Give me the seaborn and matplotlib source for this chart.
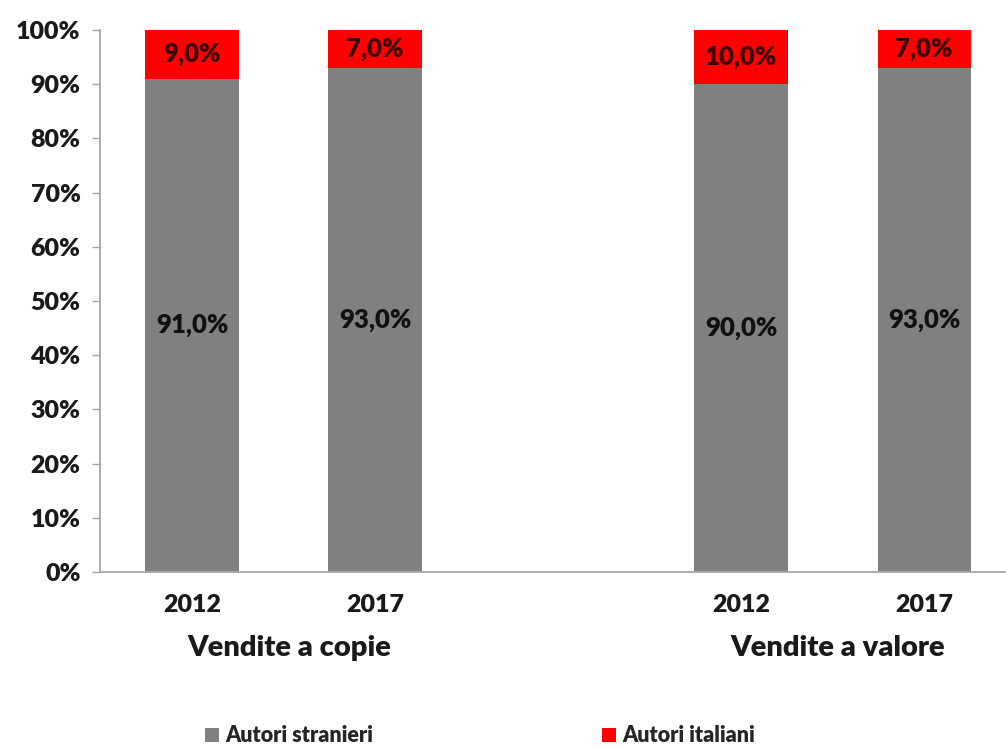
import matplotlib
matplotlib.use("Agg")
import matplotlib.pyplot as plt
import matplotlib.transforms as mtransforms
from matplotlib.patches import Patch
import seaborn as sns
import pandas as pd

# Data: share of sales by author origin
groups = ["Vendite a copie", "Vendite a copie", "Vendite a valore", "Vendite a valore"]
years = ["2012", "2017", "2012", "2017"]
positions = [0, 1, 3, 4]
stranieri = [91.0, 93.0, 90.0, 93.0]
italiani = [9.0, 7.0, 10.0, 7.0]
yticks = [0, 10, 20, 30, 40, 50, 60, 70, 80, 90, 100]

GREY = "#808080"
RED = "#FF0000"
FONT = "Lato"

sns.set_theme(style="white")
plt.rcParams["font.family"] = [FONT, "DejaVu Sans"]
plt.rcParams["font.weight"] = "bold"

df = pd.DataFrame({
    "pos": positions,
    "group": groups,
    "year": years,
    "stranieri": stranieri,
    "italiani": italiani,
})
df["totale"] = df["stranieri"] + df["italiani"]

fig = plt.figure(figsize=(10.06, 7.49), dpi=100)
ax = fig.add_axes([100 / 1006, 177 / 749, 906 / 1006, 542 / 749])

# stacked bars: full height in red, foreign share in grey on top of it
sns.barplot(data=df, x="pos", y="totale", native_scale=True, color=RED,
            saturation=1, width=0.51, ax=ax, linewidth=0, errorbar=None)
sns.barplot(data=df, x="pos", y="stranieri", native_scale=True, color=GREY,
            saturation=1, width=0.51, ax=ax, linewidth=0, errorbar=None)

# value labels centred in each segment
for p, s, i in zip(positions, stranieri, italiani):
    ax.text(p, s / 2, f"{s:.1f}%".replace(".", ","), ha="center", va="center",
            fontsize=18.5, fontweight="heavy", color="#111111")
    ax.text(p, s + i / 2, f"{i:.1f}%".replace(".", ","), ha="center", va="center",
            fontsize=18.5, fontweight="heavy", color="#3a0000")

ax.set_xlim(-0.503, 4.447)
ax.set_ylim(0, 100)
ax.set_yticks(yticks)
ax.set_yticklabels([f"{t}%" for t in yticks], fontsize=18, fontweight="heavy",
                   color="#1a1a1a")
ax.set_xticks(positions)
ax.set_xticklabels(years, fontsize=18, fontweight="heavy", color="#1a1a1a")
ax.set_xlabel("")
ax.set_ylabel("")

ax.tick_params(axis="y", which="major", direction="out", length=6, width=1,
               color="#a6a6a6", pad=8, left=True)
ax.tick_params(axis="x", length=0, pad=16)

for side in ["top", "right"]:
    ax.spines[side].set_visible(False)
for side in ["left", "bottom"]:
    ax.spines[side].set_color("#a6a6a6")
    ax.spines[side].set_linewidth(1.3)

# group labels under the year labels
trans = mtransforms.blended_transform_factory(ax.transData, fig.transFigure)
for g in dict.fromkeys(groups):
    xs = [p for p, gg in zip(positions, groups) if gg == g]
    ax.text(sum(xs) / len(xs) + 0.03, 1 - 648 / 749, g, transform=trans,
            ha="center", va="center", fontsize=21, fontweight="heavy",
            color="#1a1a1a")

handles = [Patch(facecolor=GREY, edgecolor="none", label="Autori stranieri"),
           Patch(facecolor=RED, edgecolor="none", label="Autori italiani")]
fig.legend(handles=handles, loc="center", bbox_to_anchor=(480 / 1006, 1 - 736 / 749),
           ncol=2, frameon=False, handlelength=0.65, handleheight=0.65,
           handletextpad=0.3, columnspacing=10.6,
           prop={"family": FONT, "weight": "heavy", "size": 15.5})

fig.savefig("out.png", dpi=100, facecolor="white")
